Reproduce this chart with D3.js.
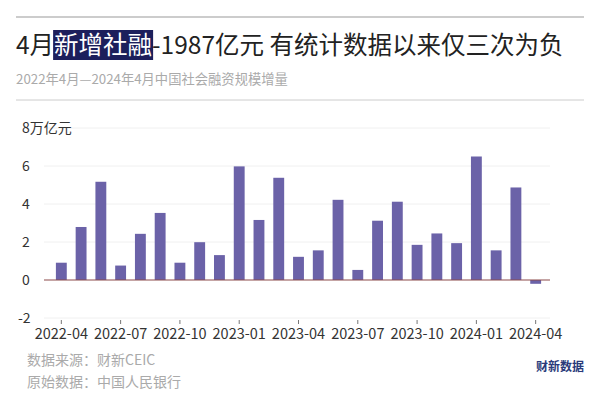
<!DOCTYPE html>
<html><head><meta charset="utf-8">
<script src="https://cdn.jsdelivr.net/npm/d3@7"></script>
<style>body{margin:0;background:#fff;font-family:"Noto Sans CJK SC","Noto Sans",sans-serif}</style>
</head><body><div id="chart"></div>
<script>
// monthly increase of aggregate financing, 万亿元
const months = ["2022-04","2022-05","2022-06","2022-07","2022-08","2022-09","2022-10","2022-11","2022-12",
  "2023-01","2023-02","2023-03","2023-04","2023-05","2023-06","2023-07","2023-08","2023-09","2023-10","2023-11","2023-12",
  "2024-01","2024-02","2024-03","2024-04"];
const values = [0.91,2.79,5.17,0.76,2.43,3.53,0.91,1.99,1.31,5.98,3.16,5.38,1.22,1.56,4.22,0.53,3.12,4.12,1.85,2.45,1.94,6.5,1.56,4.87,-0.2];
const tickMonths = ["2022-04","2022-07","2022-10","2023-01","2023-04","2023-07","2023-10","2024-01","2024-04"];
const yTicks = [-2,0,2,4,6,8];

const W = 600, H = 400;
const svg = d3.select("#chart").append("svg").attr("width", W).attr("height", H);

svg.append("line").attr("x1",16).attr("x2",584).attr("y1",17).attr("y2",17).attr("stroke","#999");
svg.append("line").attr("x1",16).attr("x2",584).attr("y1",100).attr("y2",100).attr("stroke","#ccc");

const hlRect = svg.append("rect").attr("y",30).attr("height",30).attr("fill","#1c1f5c");
const title = svg.append("text").attr("x",16).attr("y",54).attr("font-size",24.5).attr("fill","#222");
const t1 = title.append("tspan").text("4月");
const hl = title.append("tspan").attr("fill","#fff").text("新增社融");
title.append("tspan").text("-1987亿元 有统计数据以来仅三次为负");
const w1 = t1.node().getComputedTextLength(), w2 = hl.node().getComputedTextLength();
hlRect.attr("x",16 + w1 - 1).attr("width",w2 + 2);

svg.append("text").attr("x",16).attr("y",84).attr("font-size",13.3).attr("fill","#aaa")
  .text("2022年4月—2024年4月中国社会融资规模增量");

const x = d3.scaleBand().domain(months).range([47,550]).padding(0.45);
const y = d3.scaleLinear().domain([-2,8]).range([318,128]);

svg.append("g").selectAll("line").data(yTicks.filter(d=>d!==0)).join("line")
  .attr("x1",44).attr("x2",550).attr("y1",d=>y(d)).attr("y2",d=>y(d)).attr("stroke","#f0f0f0");

svg.append("g").selectAll("text").data(yTicks).join("text")
  .attr("x",d=>d===-2?18:22).attr("y",d=>y(d)+5).attr("font-size",14).attr("fill","#333")
  .text(d=>d===8?"8万亿元":d);

svg.append("g").selectAll("rect").data(values).join("rect")
  .attr("x",(d,i)=>x(months[i])).attr("width",x.bandwidth())
  .attr("y",d=>y(Math.max(0,d))).attr("height",d=>Math.abs(y(d)-y(0)))
  .attr("fill","#6b62a8");

svg.append("line").attr("x1",44).attr("x2",550).attr("y1",y(0)).attr("y2",y(0)).attr("stroke","#8c4a4a").attr("stroke-width",1.2);

const ax = svg.append("g").attr("transform","translate(0,320)")
  .call(d3.axisBottom(x).tickValues(tickMonths).tickSize(4).tickSizeOuter(0));
ax.select(".domain").remove();
ax.selectAll("line").attr("stroke","#777");
ax.selectAll("text").attr("font-size",14.5).attr("fill","#333").attr("dy","0.85em")
  .attr("font-family","\"Noto Sans CJK SC\",sans-serif");

svg.append("text").attr("x",27).attr("y",365).attr("font-size",14).attr("fill","#aaa").text("数据来源：财新CEIC");
svg.append("text").attr("x",27).attr("y",387).attr("font-size",14).attr("fill","#aaa").text("原始数据：中国人民银行");
svg.append("text").attr("x",584).attr("y",371).attr("text-anchor","end").attr("font-size",12).attr("font-weight","bold").attr("fill","#2a3a7a").text("财新数据");
</script></body></html>
